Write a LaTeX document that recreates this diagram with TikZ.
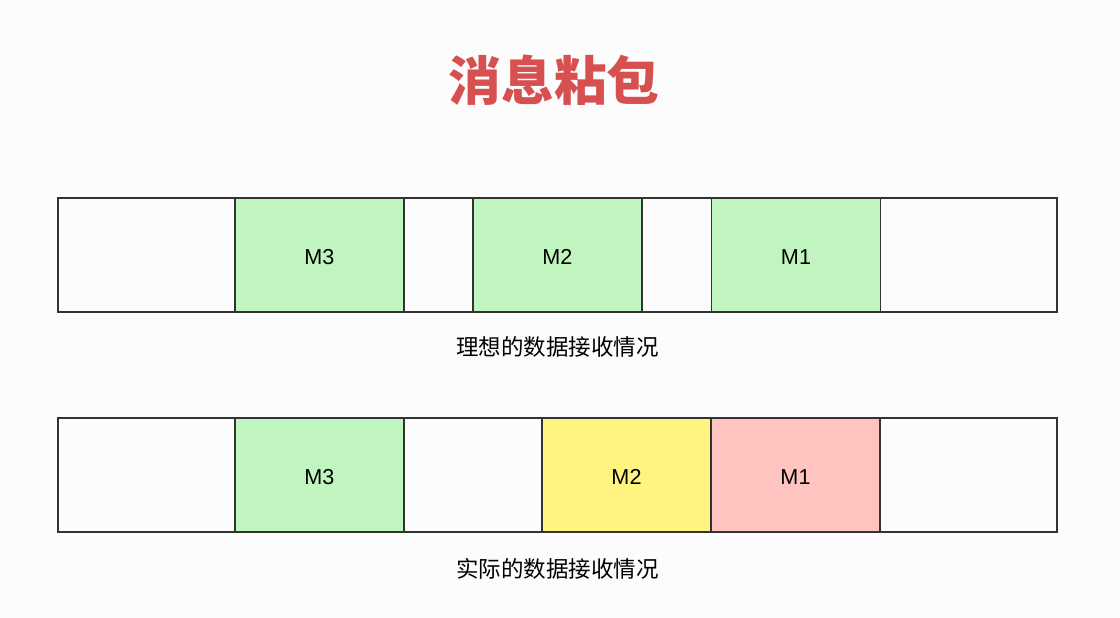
\documentclass[tikz,border=0pt]{standalone}
\usepackage{fontspec}
\setmainfont{Liberation Sans}
\newfontfamily\cjk{Noto Sans CJK SC}
\usetikzlibrary{positioning}
\definecolor{msggreen}{HTML}{C0F5C0}
\definecolor{msgyellow}{HTML}{FFF47F}
\definecolor{msgpink}{HTML}{FFC4C0}
\definecolor{titlered}{HTML}{D65050}
\definecolor{edgegray}{HTML}{333333}
\tikzset{
  bar/.style={rectangle, draw=edgegray, line width=0.9pt, minimum width=19.98cm, minimum height=2.28cm, inner sep=0},
  msg/.style={rectangle, draw=edgegray, line width=0.9pt, minimum width=3.38cm, minimum height=2.28cm, inner sep=0, text height=2ex, text depth=0pt, font=\fontsize{12.3}{14}\selectfont},
  caption/.style={rectangle, draw=none, inner sep=0, font=\cjk\fontsize{12.8}{15}\selectfont}
}

\begin{document}
\begin{tikzpicture}

% background and page size
\fill[white!99!black] (0,0) rectangle (22.4,12.36);
\useasboundingbox (0,0) rectangle (22.4,12.36);

\node[font=\cjk\bfseries\fontsize{30}{34}\selectfont, text=titlered] (title) at (11.08,10.76) {消息粘包};

% ideal receiving
\node[bar] (ideal) at (11.15,7.26) {};
\node[msg, fill=msggreen] (ideal-m3) at (6.39,7.26) {M3};
\node[msg, fill=msggreen] (ideal-m2) at (11.15,7.26) {M2};
\node[msg, fill=msggreen] (ideal-m1) at (15.92,7.26) {M1};
\node[caption, below=4.6mm of ideal] (ideal-label) {理想的数据接收情况};

% actual receiving
\node[bar] (actual) at (11.15,2.86) {};
\node[msg, fill=msggreen] (actual-m3) at (6.39,2.86) {M3};
\node[msg, fill=msgyellow] (actual-m2) at (12.53,2.86) {M2};
\node[msg, fill=msgpink] (actual-m1) at (15.91,2.86) {M1};
\node[caption, below=5mm of actual] (actual-label) {实际的数据接收情况};

\end{tikzpicture}
\end{document}
